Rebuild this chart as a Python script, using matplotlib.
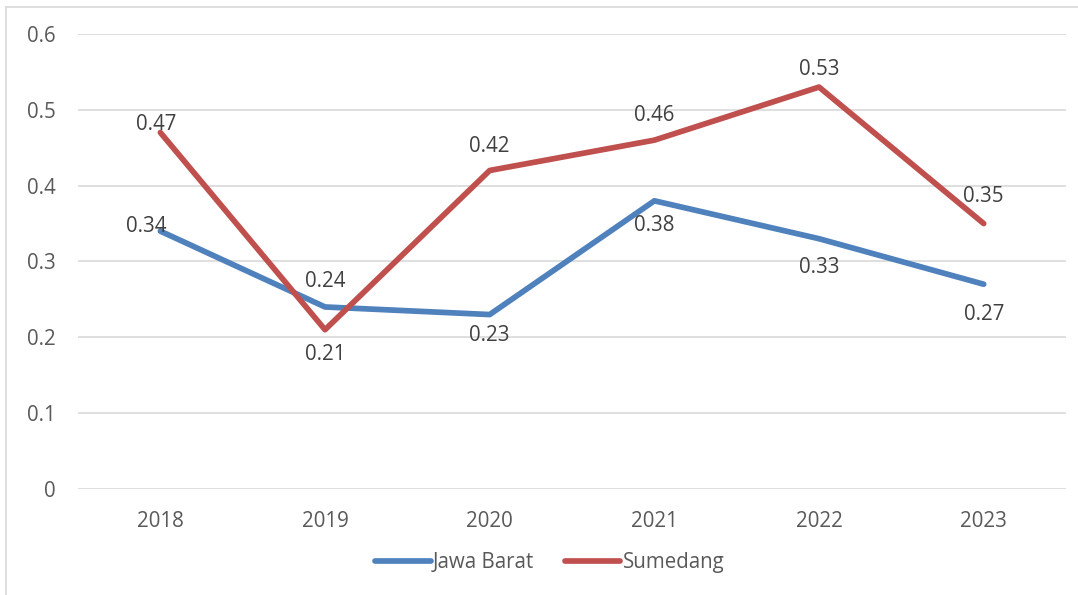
import matplotlib
matplotlib.use('Agg')
import matplotlib.pyplot as plt
from matplotlib.lines import Line2D

plt.rcParams['font.family'] = ['Open Sans', 'DejaVu Sans']

years = ['2018', '2019', '2020', '2021', '2022', '2023']
jawa_barat = [0.34, 0.24, 0.23, 0.38, 0.33, 0.27]
sumedang = [0.47, 0.21, 0.42, 0.46, 0.53, 0.35]
y_ticks = [0, 0.1, 0.2, 0.3, 0.4, 0.5, 0.6]
y_labels = ['0', '0.1', '0.2', '0.3', '0.4', '0.5', '0.6']

blue = '#4F81BD'
red = '#C0504D'
grey = '#595959'
fs = 14.8

fig = plt.figure(figsize=(10.78, 5.95), dpi=100)
ax = fig.add_axes([0.0724, 0.1782, 0.9165, 0.7647])

x = list(range(len(years)))
ax.plot(x, jawa_barat, color=blue, lw=4.1, solid_capstyle='round', label='Jawa Barat', zorder=3)
ax.plot(x, sumedang, color=red, lw=4.1, solid_capstyle='round', label='Sumedang', zorder=3)

# label offsets in pixels (dx, dy)
jb_off = [(-14, 5), (0, 25), (0, -21), (0, -25), (0, -29), (0, -30)]
sm_off = [(-4, 8), (0, -25), (0, 24), (0, 25), (0, 18), (0, 27)]
for xi, v, off in zip(x, jawa_barat, jb_off):
    ax.annotate(f'{v:.2f}', (xi, v), xytext=off, textcoords='offset pixels',
                ha='center', va='center', fontsize=fs, color='#404040', zorder=4)
for xi, v, off in zip(x, sumedang, sm_off):
    ax.annotate(f'{v:.2f}', (xi, v), xytext=off, textcoords='offset pixels',
                ha='center', va='center', fontsize=fs, color='#404040', zorder=4)

ax.set_xlim(-0.5, 5.5)
ax.set_ylim(0, 0.6)
ax.set_xticks(x)
ax.set_xticklabels(years)
ax.set_yticks(y_ticks)
ax.set_yticklabels(y_labels)
ax.tick_params(length=0, labelsize=fs, labelcolor=grey)
ax.tick_params(axis='x', pad=16)
ax.tick_params(axis='y', pad=16)
ax.grid(axis='y', color='#D9D9D9', lw=1.2)
ax.set_axisbelow(True)
for s in ax.spines.values():
    s.set_visible(False)

fig.legend(loc='center', bbox_to_anchor=(0.51, 0.054), ncol=2, frameon=False,
           fontsize=fs, handlelength=2.7, handletextpad=0.1, columnspacing=1.5,
           labelcolor=grey)

# outer chart border (left and top edges)
fig.add_artist(Line2D([6/1078, 6/1078], [0, 1 - 7/595], color='#D9D9D9', lw=1.2))
fig.add_artist(Line2D([6/1078, 1], [1 - 7/595, 1 - 7/595], color='#D9D9D9', lw=1.2))

fig.savefig('out.png', dpi=100)
